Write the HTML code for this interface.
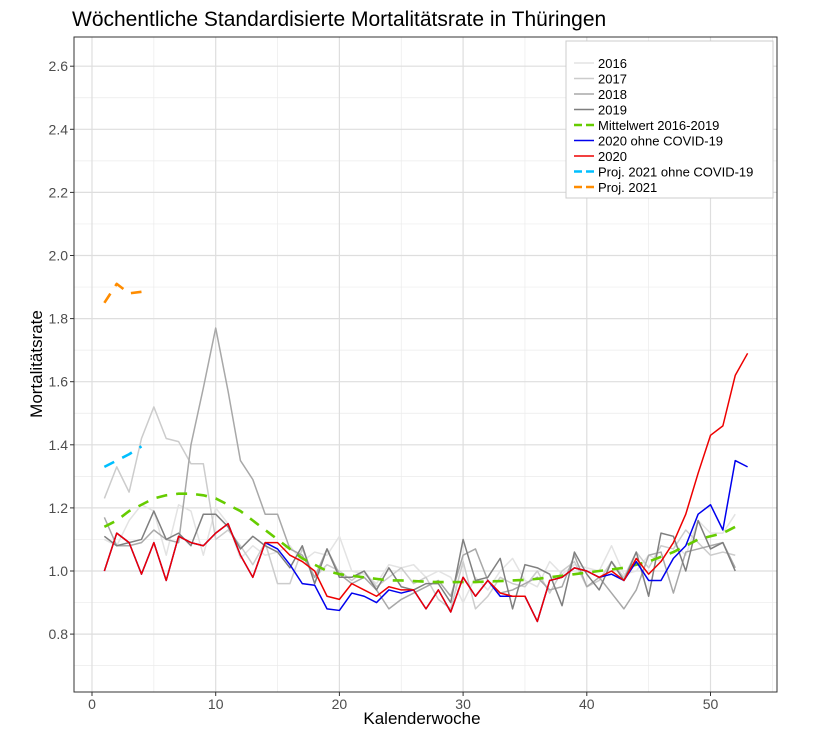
<!DOCTYPE html>
<html><head><meta charset="utf-8"><style>
body{margin:0;background:#fff;font-family:"Liberation Sans",sans-serif}
</style></head><body>
<svg id="c" width="815" height="727" xmlns="http://www.w3.org/2000/svg" font-family="Liberation Sans, sans-serif">
<text x="72" y="26" font-size="21" fill="#000">Wöchentliche Standardisierte Mortalitätsrate in Thüringen</text>
<g id="grid"></g><g id="axes"></g><g id="series"></g>
<rect x="74" y="37" width="703" height="655" fill="none" stroke="#333" stroke-width="1"/>
<text x="422" y="724" font-size="17" text-anchor="middle">Kalenderwoche</text>
<text transform="translate(42,364) rotate(-90)" font-size="17" text-anchor="middle">Mortalitätsrate</text>
<g id="legend"></g>
</svg>
<script>
const weeks52=[1,2,3,4,5,6,7,8,9,10,11,12,13,14,15,16,17,18,19,20,21,22,23,24,25,26,27,28,29,30,31,32,33,34,35,36,37,38,39,40,41,42,43,44,45,46,47,48,49,50,51,52];
const weeks53=weeks52.concat([53]);
const y2016=[1.10,1.08,1.16,1.21,1.19,1.05,1.21,1.19,1.05,1.20,1.15,1.04,1.08,1.05,1.06,1.08,1.03,1.06,1.05,1.11,1.0,0.99,0.96,1.02,1.01,1.02,0.98,1.0,0.98,0.90,0.98,0.94,1.0,1.04,0.97,0.95,1.03,0.99,1.02,1.01,1.0,1.08,0.99,1.0,1.05,1.03,1.09,1.05,1.16,1.12,1.12,1.18];
const y2017=[1.23,1.33,1.25,1.42,1.52,1.42,1.41,1.34,1.34,1.10,1.13,1.08,1.02,1.09,0.96,0.96,1.07,0.98,1.02,1.0,0.97,1.0,0.95,0.98,1.01,0.96,0.98,0.91,0.88,1.03,0.88,0.92,0.98,0.96,0.95,1.0,0.93,1.0,1.03,0.95,0.97,1.03,0.98,1.06,1.01,1.08,1.07,1.13,1.09,1.05,1.06,1.05];
const y2018=[1.17,1.08,1.08,1.09,1.13,1.10,1.09,1.40,1.58,1.77,1.57,1.35,1.29,1.18,1.18,1.07,1.05,0.98,1.07,0.99,0.96,0.98,0.94,0.88,0.91,0.93,0.95,0.97,0.92,1.05,1.07,0.97,0.93,0.94,0.96,0.98,0.94,0.95,1.05,0.95,0.98,0.93,0.88,0.94,1.05,1.06,0.93,1.06,1.07,1.08,1.09,1.01];
const y2019=[1.11,1.08,1.09,1.10,1.19,1.10,1.12,1.08,1.18,1.18,1.14,1.07,1.11,1.08,1.06,1.01,1.08,0.96,1.07,0.98,0.98,1.0,0.94,1.01,0.95,0.94,0.96,0.96,0.90,1.10,0.97,0.98,1.04,0.88,1.02,1.01,0.99,0.89,1.06,0.99,0.94,1.03,0.97,1.06,0.92,1.12,1.11,1.00,1.16,1.07,1.09,1.0];
const yMean=[1.14,1.16,1.19,1.21,1.23,1.24,1.245,1.245,1.24,1.23,1.21,1.19,1.16,1.13,1.10,1.07,1.04,1.02,1.0,0.99,0.985,0.98,0.975,0.97,0.97,0.968,0.966,0.965,0.965,0.965,0.965,0.967,0.968,0.97,0.972,0.975,0.98,0.985,0.99,0.995,1.0,1.005,1.01,1.02,1.03,1.045,1.06,1.08,1.10,1.11,1.12,1.14];
const y2020=[1.0,1.12,1.09,0.99,1.09,0.97,1.11,1.09,1.08,1.12,1.15,1.05,0.98,1.09,1.09,1.05,1.03,1.0,0.92,0.91,0.96,0.94,0.92,0.95,0.94,0.94,0.88,0.94,0.87,0.98,0.92,0.97,0.93,0.92,0.92,0.84,0.97,0.98,1.01,1.0,0.98,1.0,0.97,1.04,0.99,1.03,1.09,1.18,1.31,1.43,1.46,1.62,1.69];
const y2020noCovid=[1.0,1.12,1.09,0.99,1.09,0.97,1.11,1.09,1.08,1.12,1.15,1.05,0.98,1.09,1.07,1.02,0.96,0.955,0.88,0.875,0.93,0.92,0.90,0.94,0.93,0.94,0.88,0.94,0.87,0.98,0.92,0.97,0.92,0.92,0.92,0.84,0.97,0.98,1.01,1.0,0.98,0.99,0.97,1.03,0.97,0.97,1.04,1.08,1.18,1.21,1.13,1.35,1.33];
const weeksProj=[1,2,3,4];
const yProjNoCovid=[1.33,1.35,1.37,1.395];
const yProj=[1.85,1.91,1.88,1.885];
const yTicks=[0.8,1.0,1.2,1.4,1.6,1.8,2.0,2.2,2.4,2.6];
const xTicks=[0,10,20,30,40,50];

const NS="http://www.w3.org/2000/svg";
const X=w=>92+w*12.37;
const Y=v=>571-(v-1)*315.5;
function mk(tag,attrs,parent){const e=document.createElementNS(NS,tag);for(const k in attrs)e.setAttribute(k,attrs[k]);parent.appendChild(e);return e;}
const grid=document.getElementById('grid'),axes=document.getElementById('axes'),ser=document.getElementById('series'),leg=document.getElementById('legend');
for(let v=0.7;v<=2.71;v+=0.1){const yy=Y(v);if(yy<37||yy>692)continue;const l=mk('line',{x1:74,x2:777,y1:yy,y2:yy,stroke:'#ebebeb','stroke-width':0.7},grid);

}
for(let w=5;w<=55;w+=10){const l=mk('line',{x1:X(w),x2:X(w),y1:37,y2:692,stroke:'#ebebeb','stroke-width':0.7},grid);

}
yTicks.forEach(v=>{const yy=Y(v);const l=mk('line',{x1:74,x2:777,y1:yy,y2:yy,stroke:'#dedede','stroke-width':1.2},grid);


const t=mk('text',{x:68,y:yy+5,'font-size':14,'text-anchor':'end',fill:'#4d4d4d'},axes);t.textContent=v.toFixed(1);


mk('line',{x1:70,x2:74,y1:yy,y2:yy,stroke:'#333'},axes);});
xTicks.forEach(w=>{const xx=X(w);const l=mk('line',{x1:xx,x2:xx,y1:37,y2:692,stroke:'#dedede','stroke-width':1.2},grid);


const t=mk('text',{x:xx,y:709,'font-size':14,'text-anchor':'middle',fill:'#4d4d4d'},axes);t.textContent=w;


mk('line',{x1:xx,x2:xx,y1:692,y2:696,stroke:'#333'},axes);});
function line(xs,ys,color,dash,width,name){const p=mk('polyline',{points:xs.map((w,i)=>X(w)+','+Y(ys[i])).join(' '),fill:'none',stroke:color,'stroke-width':width,'stroke-dasharray':dash||'none','stroke-linejoin':'round'},ser);

}
line(weeks52,y2016,'#e3e3e3','',1.5,'line-2016');
line(weeks52,y2017,'#cccccc','',1.5,'line-2017');
line(weeks52,y2018,'#a8a8a8','',1.5,'line-2018');
line(weeks52,y2019,'#7f7f7f','',1.5,'line-2019');
line(weeks52,yMean,'#66cc00','11,9',2.6,'line-mean-2016-2019');
line(weeks53,y2020noCovid,'#0000ee','',1.5,'line-2020-no-covid');
line(weeks53,y2020,'#ee0000','',1.5,'line-2020');
line(weeksProj,yProjNoCovid,'#00bfff','11,9',2.6,'line-proj-2021-no-covid');
line(weeksProj,yProj,'#ff8c00','11,9',2.6,'line-proj-2021');
const lr=mk('rect',{x:566,y:41,width:207,height:157,fill:'#fff',stroke:'#ccc'},leg);


const items=[['2016','#e3e3e3',''],['2017','#cccccc',''],['2018','#a8a8a8',''],['2019','#7f7f7f',''],['Mittelwert 2016-2019','#66cc00','8,4'],['2020 ohne COVID-19','#0000ee',''],['2020','#ee0000',''],['Proj. 2021 ohne COVID-19','#00bfff','8,4'],['Proj. 2021','#ff8c00','8,4']];
items.forEach((it,i)=>{const yy=63+i*15.5;const g=mk('g',{},leg);


mk('line',{x1:574,x2:594,y1:yy,y2:yy,stroke:it[1],'stroke-width':it[2]?2.6:1.5,'stroke-dasharray':it[2]||'none'},g);
const t=mk('text',{x:598,y:yy+5,'font-size':13,fill:'#000'},g);t.textContent=it[0];});
</script>
</body></html>
